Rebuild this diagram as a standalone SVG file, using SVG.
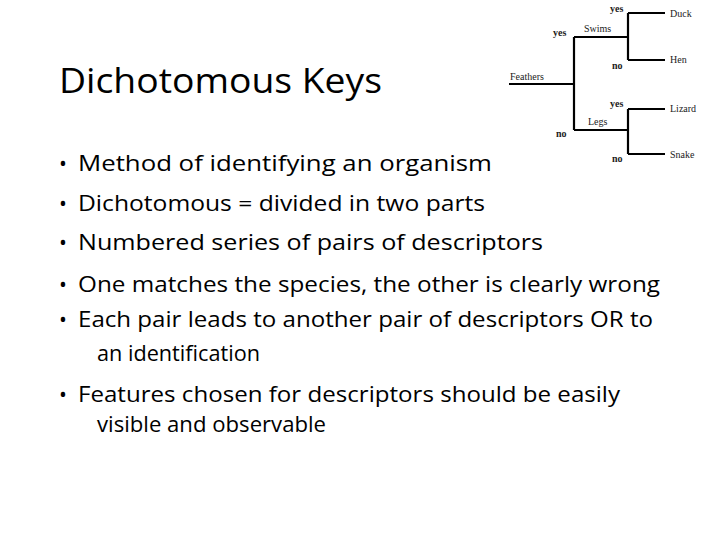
<svg xmlns="http://www.w3.org/2000/svg" width="720" height="540" viewBox="0 0 720 540">
<style>
.t{font-family:"Open Sans","Liberation Sans",sans-serif;fill:#000}
.b{font-size:21px}
.k{font-family:"Liberation Serif",serif;font-size:10px;fill:#222}
.kb{font-family:"Liberation Serif",serif;font-size:10px;font-weight:bold;fill:#222}
.l{stroke:#000;stroke-width:2.2;fill:none}
</style>
<rect width="720" height="540" fill="#fff"/>
<g id="title"><text class="t" x="59" y="93" font-size="35" textLength="323" lengthAdjust="spacingAndGlyphs">Dichotomous Keys</text></g>
<g id="bullets" class="t b">
<text x="59" y="171">•</text><text x="78" y="171" textLength="414" lengthAdjust="spacingAndGlyphs">Method of identifying an organism</text>
<text x="59" y="211">•</text><text x="78" y="211" textLength="407" lengthAdjust="spacingAndGlyphs">Dichotomous = divided in two parts</text>
<text x="59" y="250">•</text><text x="78" y="250" textLength="465" lengthAdjust="spacingAndGlyphs">Numbered series of pairs of descriptors</text>
<text x="59" y="292">•</text><text x="78" y="292" textLength="582" lengthAdjust="spacingAndGlyphs">One matches the species, the other is clearly wrong</text>
<text x="59" y="327">•</text><text x="78" y="327" textLength="575" lengthAdjust="spacingAndGlyphs">Each pair leads to another pair of descriptors OR to</text>
<text x="97" y="361" textLength="163" lengthAdjust="spacingAndGlyphs">an identification</text>
<text x="59" y="402">•</text><text x="78" y="402" textLength="542" lengthAdjust="spacingAndGlyphs">Features chosen for descriptors should be easily</text>
<text x="97" y="432" textLength="229" lengthAdjust="spacingAndGlyphs">visible and observable</text>
</g>
<g id="connectors" class="l">
<path d="M509 84H574M574 37V130M574 37H628M574 130H628M628 13V60M628 13H665M628 60H665M628 109V154M628 109H665M628 154H665"/>
</g>
<g id="key">
<text class="k" x="510" y="80">Feathers</text>
<text class="kb" x="553" y="36">yes</text>
<text class="k" x="584" y="32">Swims</text>
<text class="kb" x="556" y="137">no</text>
<text class="k" x="588" y="125">Legs</text>
<text class="kb" x="610" y="12">yes</text>
<text class="kb" x="612" y="69">no</text>
<text class="kb" x="610" y="107">yes</text>
<text class="kb" x="612" y="162">no</text>
<text class="k" x="670" y="17">Duck</text>
<text class="k" x="670" y="63">Hen</text>
<text class="k" x="670" y="112">Lizard</text>
<text class="k" x="670" y="158">Snake</text>
</g>
</svg>
